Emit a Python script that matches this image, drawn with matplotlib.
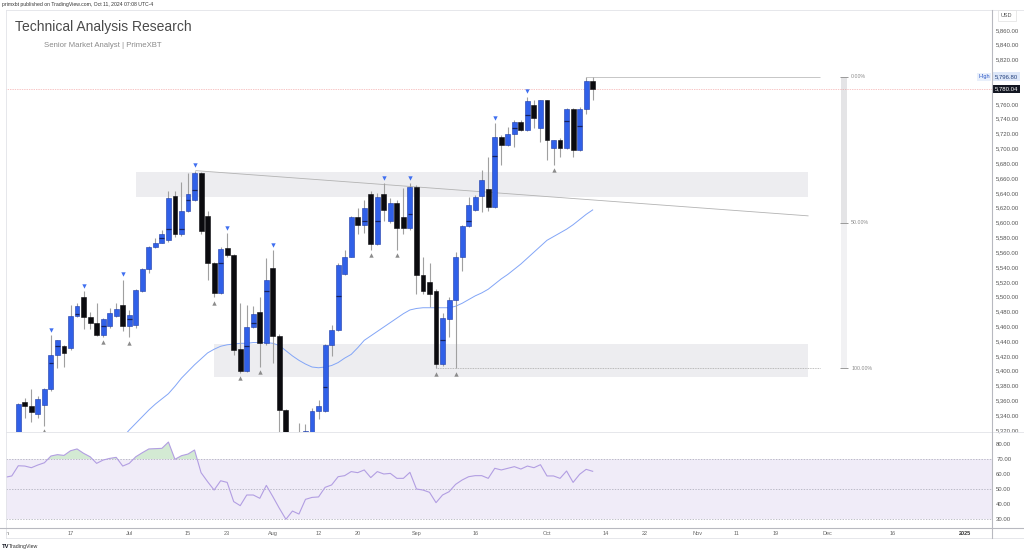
import matplotlib
matplotlib.use("Agg")
import matplotlib.pyplot as plt
from matplotlib.lines import Line2D
import numpy as np

plt.rcParams['font.family'] = ['Liberation Sans', 'DejaVu Sans']

W, H = 1024, 551

# ---- data (trading-day index, 0 = Jun 3 2024) ----
first_day = 2
dates = ["Jun 05", "Jun 06", "Jun 07", "Jun 10", "Jun 11", "Jun 12", "Jun 13", "Jun 14", "Jun 17",
         "Jun 18", "Jun 20", "Jun 21", "Jun 24", "Jun 25", "Jun 26", "Jun 27", "Jun 28",
         "Jul 01", "Jul 02", "Jul 03", "Jul 05", "Jul 08", "Jul 09", "Jul 10", "Jul 11", "Jul 12",
         "Jul 15", "Jul 16", "Jul 17", "Jul 18", "Jul 19", "Jul 22", "Jul 23", "Jul 24", "Jul 25",
         "Jul 26", "Jul 29", "Jul 30", "Jul 31",
         "Aug 01", "Aug 02", "Aug 05", "Aug 06", "Aug 07", "Aug 08", "Aug 09", "Aug 12", "Aug 13",
         "Aug 14", "Aug 15", "Aug 16", "Aug 19", "Aug 20", "Aug 21", "Aug 22", "Aug 23", "Aug 26",
         "Aug 27", "Aug 28", "Aug 29", "Aug 30",
         "Sep 03", "Sep 04", "Sep 05", "Sep 06", "Sep 09", "Sep 10", "Sep 11", "Sep 12", "Sep 13",
         "Sep 16", "Sep 17", "Sep 18", "Sep 19", "Sep 20", "Sep 23", "Sep 24", "Sep 25", "Sep 26",
         "Sep 27", "Sep 30",
         "Oct 01", "Oct 02", "Oct 03", "Oct 04", "Oct 07", "Oct 08", "Oct 09", "Oct 10"]

opens = [5298, 5358, 5353, 5342, 5354, 5375, 5421, 5434, 5431, 5474, 5500, 5473, 5465, 5448, 5460, 5474, 5489,
         5460, 5462, 5507, 5537, 5567, 5573, 5576, 5636, 5584, 5615, 5631, 5667, 5609, 5545, 5505, 5565,
         5556, 5429, 5400, 5459, 5479, 5437,
         5538, 5447, 5347, 5206, 5293, 5251, 5314, 5345, 5345, 5435, 5455, 5530, 5554, 5608, 5597, 5638,
         5571, 5639, 5602, 5626, 5607, 5592,
         5648, 5529, 5520, 5507, 5409, 5470, 5495, 5553, 5595, 5617, 5636, 5645, 5621, 5716, 5705, 5720,
         5735, 5725, 5758, 5727,
         5765, 5700, 5711, 5701, 5753, 5698, 5753, 5791]
highs = [5356, 5363, 5375, 5366, 5377, 5448, 5442, 5435, 5489, 5491, 5507, 5479, 5491, 5471, 5484, 5491, 5523,
         5482, 5510, 5539, 5568, 5579, 5590, 5642, 5642, 5655, 5667, 5670, 5668, 5615, 5547, 5567, 5586,
         5557, 5491, 5489, 5488, 5500, 5552,
         5563, 5450, 5349, 5312, 5330, 5328, 5350, 5360, 5436, 5462, 5545, 5563, 5609, 5620, 5631, 5642,
         5640, 5653, 5633, 5630, 5647, 5653,
         5650, 5553, 5546, 5510, 5478, 5500, 5560, 5597, 5635, 5637, 5671, 5688, 5734, 5718, 5729, 5738,
         5738, 5770, 5766, 5765,
         5766, 5712, 5714, 5754, 5754, 5756, 5797, 5796]
lows = [5295, 5336, 5331, 5336, 5325, 5373, 5404, 5405, 5428, 5472, 5456, 5456, 5447, 5446, 5458, 5473, 5453,
        5445, 5458, 5506, 5532, 5565, 5572, 5574, 5580, 5582, 5614, 5629, 5585, 5522, 5499, 5504, 5553,
        5421, 5397, 5398, 5457, 5405, 5435,
        5410, 5306, 5120, 5194, 5195, 5250, 5307, 5335, 5344, 5420, 5454, 5529, 5553, 5585, 5586, 5563,
        5570, 5602, 5600, 5563, 5584, 5590,
        5504, 5504, 5486, 5403, 5407, 5445, 5403, 5535, 5594, 5616, 5614, 5616, 5619, 5678, 5703, 5702,
        5724, 5723, 5728, 5708,
        5684, 5678, 5689, 5699, 5689, 5696, 5747, 5765]
closes = [5355, 5353, 5344, 5362, 5376, 5421, 5441, 5424, 5474, 5487, 5473, 5465, 5448, 5470, 5478, 5483, 5460,
          5475, 5509, 5537, 5567, 5573, 5584, 5633, 5584, 5615, 5638, 5667, 5589, 5545, 5505, 5564, 5556,
          5428, 5400, 5459, 5477, 5437, 5522,
          5447, 5347, 5186, 5240, 5199, 5319, 5345, 5352, 5435, 5455, 5543, 5554, 5608, 5597, 5620, 5571,
          5635, 5617, 5626, 5592, 5592, 5648,
          5529, 5507, 5504, 5409, 5471, 5495, 5553, 5595, 5624, 5634, 5658, 5621, 5716, 5705, 5720, 5735,
          5725, 5764, 5741, 5765,
          5711, 5711, 5700, 5753, 5698, 5753, 5791, 5780.04]

# dark tick marks drawn inside some bodies
mark_dates = ["Jun 12", "Jun 13", "Jun 18", "Jun 25", "Jul 01", "Jul 09", "Jul 10", "Jul 12", "Jul 15",
              "Jul 16", "Jul 22", "Jul 26", "Jul 29", "Jul 31", "Aug 13", "Aug 15", "Aug 21", "Aug 23",
              "Aug 30", "Sep 09", "Sep 13", "Sep 19", "Sep 24", "Sep 26", "Oct 04", "Oct 08"]
mark_prices = [5410, 5434, 5476, 5460, 5470, 5579, 5591, 5591, 5631,
               5644, 5545, 5433, 5464, 5507, 5378, 5501, 5602, 5602,
               5612, 5442, 5602, 5690, 5727, 5745, 5737, 5730]

swing_high_dates = ["Jun 12", "Jun 20", "Jun 28", "Jul 16", "Jul 23", "Aug 01", "Aug 26", "Aug 30",
                    "Sep 19", "Sep 26"]
swing_low_dates = ["Jun 11", "Jun 25", "Jul 01", "Jul 19", "Jul 25", "Jul 30", "Aug 22", "Aug 28",
                   "Sep 06", "Sep 11", "Oct 02"]

ma_first_day = 18
ma_values = [5310, 5320, 5329, 5338, 5347, 5355, 5362, 5369, 5379, 5390, 5399, 5408, 5416, 5424, 5429,
             5433, 5435, 5436, 5437, 5437, 5438, 5438, 5438, 5437, 5434, 5427, 5420, 5414, 5409, 5405,
             5404, 5405, 5407, 5411, 5417, 5422, 5431, 5441, 5447, 5453, 5459, 5465, 5471, 5477, 5482,
             5484, 5485, 5485, 5485, 5485, 5485, 5487, 5491, 5496, 5501, 5505, 5510, 5517, 5524, 5530,
             5537, 5544, 5552, 5560, 5568, 5576, 5581, 5586, 5591, 5597, 5604, 5611, 5617]

rsi_first_day = 0
rsi_values = [57.8, 58.7, 65.5, 65.3, 64.2, 66.0, 67.5, 72.0, 72.9, 72.4,
              75.5, 76.7, 73.8, 71.5, 67.1, 69.3, 70.4, 71.1, 65.3, 67.1,
              71.5, 74.2, 76.7, 76.9, 77.1, 81.3, 69.8, 72.2, 73.3, 76.0,
              60.9, 54.9, 49.3, 55.5, 54.4, 41.6, 38.9, 46.0, 46.0, 43.8,
              52.4, 44.9, 37.1, 29.8, 35.3, 33.3, 43.1, 44.4, 44.7, 51.1,
              52.7, 58.2, 58.9, 61.6, 60.9, 62.7, 57.6, 61.6, 60.0, 60.4,
              57.1, 57.1, 61.1, 50.0, 49.3, 47.8, 40.9, 46.0, 48.2, 53.1,
              56.0, 58.2, 58.9, 58.9, 57.1, 63.8, 62.7, 63.8, 64.9, 63.3,
              65.3, 64.2, 66.2, 58.7, 58.7, 57.1, 62.0, 54.4, 59.8, 63.1,
              61.8]

tick_days = [0, 10, 19, 28, 34, 41, 48, 54, 63, 72, 83, 92, 98, 106, 112, 118, 126, 136, 147]
tick_labels = ["Jun", "17", "Jul", "15", "23", "Aug", "12", "20", "Sep", "16", "Oct", "14", "22",
               "Nov", "11", "19", "Dec", "16", "2025"]

price_ticks = [p for p in range(5320, 5861, 20) if p not in (5780, 5800)]
rsi_ticks = [30, 40, 50, 60, 70, 80]

last_price = 5780.04
high_price = 5796.80
fib_low = 5403.0
fib_levels = [0.0, 0.5, 1.0]
fib_labels = ["0.00%", "50.00%", "100.00%"]

zone_upper = (20, 123, 5634.4, 5668.2)
zone_lower = (32, 123, 5391.5, 5436.0)
trend_days = [29.2, 123]
trend_prices = [5670, 5609]

# ---- layout ----
XMIN, XMAX = 0.115, 151.18
BLUE = "#3060e8"
BLACK = "#0b0b0f"

fig = plt.figure(figsize=(W / 100, H / 100), dpi=100)
fig.patch.set_facecolor("white")


def rect(x0, y0, x1, y1):
    return [x0 / W, 1 - y1 / H, (x1 - x0) / W, (y1 - y0) / H]


ax = fig.add_axes(rect(6, 10, 992, 432))
ax.set_xlim(XMIN, XMAX)
ax.set_ylim(5317.3, 5886.8)
for s in ax.spines.values():
    s.set_visible(False)
ax.set_xticks([])
ax.yaxis.tick_right()
ax.set_yticks(price_ticks)
ax.set_yticklabels([f"{p:,.2f}" for p in price_ticks])
ax.tick_params(axis="y", length=0, pad=3, labelsize=4.3, labelcolor="#555555")

days = first_day + np.arange(len(closes))
o = np.array(opens, float)
h = np.array(highs, float)
l = np.array(lows, float)
c = np.array(closes, float)
up = c >= o

# zones, trend line, fib
for d0, d1, lo, hi in (zone_upper, zone_lower):
    ax.fill_between([d0, d1], lo, hi, color="#ededf0", lw=0, zorder=0)
ax.plot(trend_days, trend_prices, color="#b3b3b3", lw=0.6, zorder=1)
ax.hlines(high_price, days[-2], 124.8, color="#bdbdbd", lw=0.6, zorder=1)
ax.hlines(fib_low, days[dates.index("Sep 06")], 124.8, color="#a8a8a8", lw=0.6,
          linestyle=(0, (1, 1)), zorder=1)
fib_prices = [high_price - f * (high_price - fib_low) for f in fib_levels]
ax.fill_between([128.0, 129.0], fib_prices[1], fib_prices[0], color="#e4e4e6", lw=0, zorder=1)
ax.fill_between([128.0, 129.0], fib_prices[2], fib_prices[1], color="#f1f1f3", lw=0, zorder=1)
ax.hlines(fib_prices, 127.9, 129.1, color="#9a9a9a", lw=0.7, zorder=2)
for fp, fl in zip(fib_prices, fib_labels):
    ax.text(129.6, fp, fl, fontsize=3.8, color="#8a8a8a", va="center", ha="left")

ax.axhline(last_price, color="#f08a8a", lw=0.5, linestyle=(0, (1, 1.5)), zorder=1)

# moving average
ma_days = ma_first_day + np.arange(len(ma_values))
ax.plot(ma_days, ma_values, color="#82a5f7", lw=0.7, zorder=2)

# candles
ax.vlines(days, l, h, color="#a0a0a0", lw=0.8, zorder=3)
ax.bar(days, np.maximum(np.abs(c - o), 0.8), bottom=np.minimum(o, c), width=0.75,
       color=np.where(up, BLUE, BLACK), edgecolor=np.where(up, "#1c3aa6", BLACK),
       linewidth=0.4, zorder=4)
mk = np.array([days[dates.index(d)] for d in mark_dates])
ax.hlines(mark_prices, mk - 0.37, mk + 0.37, color="#18235e", lw=0.9, zorder=5)

hi_idx = [dates.index(d) for d in swing_high_dates]
lo_idx = [dates.index(d) for d in swing_low_dates]
ax.scatter(days[hi_idx], h[hi_idx] + 7, marker="v", s=10, color="#3f6ff0", lw=0, zorder=6)
ax.scatter(days[lo_idx], l[lo_idx] - 7, marker="^", s=10, color="#8c8c8c", lw=0, zorder=6)

# price boxes on the scale
ytr = ax.get_yaxis_transform()
ax.text(1 + 3 / 986, last_price, f"{last_price:,.2f}", transform=ytr, fontsize=4.3, color="white",
        va="center", ha="left", bbox=dict(boxstyle="square,pad=0.3", fc="#131722", ec="none"))
ax.text(1 + 3 / 986, high_price, f"{high_price:,.2f}", transform=ytr, fontsize=4.3, color="#22407e",
        va="center", ha="left", bbox=dict(boxstyle="square,pad=0.3", fc="#dde7f8", ec="none"))
ax.text(1 - 2 / 986, high_price, "High", transform=ytr, fontsize=4.0, color="#2a56c6",
        va="center", ha="right", bbox=dict(boxstyle="square,pad=0.25", fc="#e8effb", ec="none"))

# ---- RSI pane ----
axr = fig.add_axes(rect(6, 432, 992, 527.7))
axr.set_xlim(XMIN, XMAX)
axr.set_ylim(24.2, 88)
for s in axr.spines.values():
    s.set_visible(False)
axr.set_xticks([])
axr.yaxis.tick_right()
axr.set_yticks(rsi_ticks)
axr.set_yticklabels([f"{v:.2f}" for v in rsi_ticks])
axr.tick_params(axis="y", length=0, pad=3, labelsize=4.3, labelcolor="#555555")
axr.axhspan(30, 70, color="#f0ecf8", lw=0, zorder=0)
for lvl in (70, 50, 30):
    axr.axhline(lvl, color="#a6a6b4", lw=0.5, linestyle=(0, (2, 2)), zorder=1)
rsi_days = rsi_first_day + np.arange(len(rsi_values))
rsi = np.array(rsi_values)
axr.fill_between(rsi_days, rsi, 70, where=rsi > 70, interpolate=True, color="#d3ead3", lw=0, zorder=1)
axr.fill_between(rsi_days, rsi, 30, where=rsi < 30, interpolate=True, color="#f6d0d0", lw=0, zorder=1)
axr.plot(rsi_days, rsi, color="#b29ee2", lw=0.8, zorder=2)

# ---- time axis ----
axt = fig.add_axes(rect(6, 527.7, 992, 538))
axt.set_xlim(XMIN, XMAX)
axt.set_ylim(0, 1)
axt.axis("off")
for d, lab in zip(tick_days, tick_labels):
    bold = lab == "2025"
    axt.text(d, 0.45, lab, fontsize=4.0, ha="center", va="center", clip_on=True,
             color="#333333" if bold else "#666666", fontweight="bold" if bold else "normal")

# ---- frame lines ----
frame = dict(color="#e2e3e8", lw=0.6)
fig.add_artist(Line2D([6 / W, 1], [1 - 9.5 / H] * 2, **frame))
fig.add_artist(Line2D([6 / W, 1], [1 - 432 / H] * 2, **frame))
fig.add_artist(Line2D([6 / W, 1], [1 - 538 / H] * 2, **frame))
fig.add_artist(Line2D([6 / W] * 2, [1 - 9.5 / H, 1 - 538 / H], **frame))
fig.add_artist(Line2D([0, 1], [1 - 527.7 / H] * 2, color="#b8b9c0", lw=0.8))
fig.add_artist(Line2D([992 / W] * 2, [1 - 9.5 / H, 1 - 538 / H], color="#b8b9c0", lw=0.8))

fig.text(1001 / W, 1 - 15.5 / H, "USD", fontsize=4.0, color="#555555", va="center", ha="left",
         bbox=dict(boxstyle="square,pad=0.6", fc="white", ec="#e0e0e0", lw=0.5))

# ---- header / footer text ----
fig.text(2 / W, 1 - 4.5 / H, "primxbt published on TradingView.com, Oct 11, 2024 07:08 UTC-4",
         fontsize=3.7, color="#333333", va="center", ha="left")
fig.text(15 / W, 1 - 27 / H, "Technical Analysis Research", fontsize=10, color="#4a4a4a",
         va="center", ha="left")
fig.text(44 / W, 1 - 45.5 / H, "Senior Market Analyst | PrimeXBT", fontsize=5.6, color="#8a8a8a",
         va="center", ha="left")
fig.text(2 / W, 1 - 546.7 / H, "TV", fontsize=4.2, color="#131722", fontweight="bold",
         va="center", ha="left")
fig.text(9 / W, 1 - 546.7 / H, "TradingView", fontsize=3.8, color="#333333", va="center", ha="left")

fig.savefig("out.png", dpi=100)
